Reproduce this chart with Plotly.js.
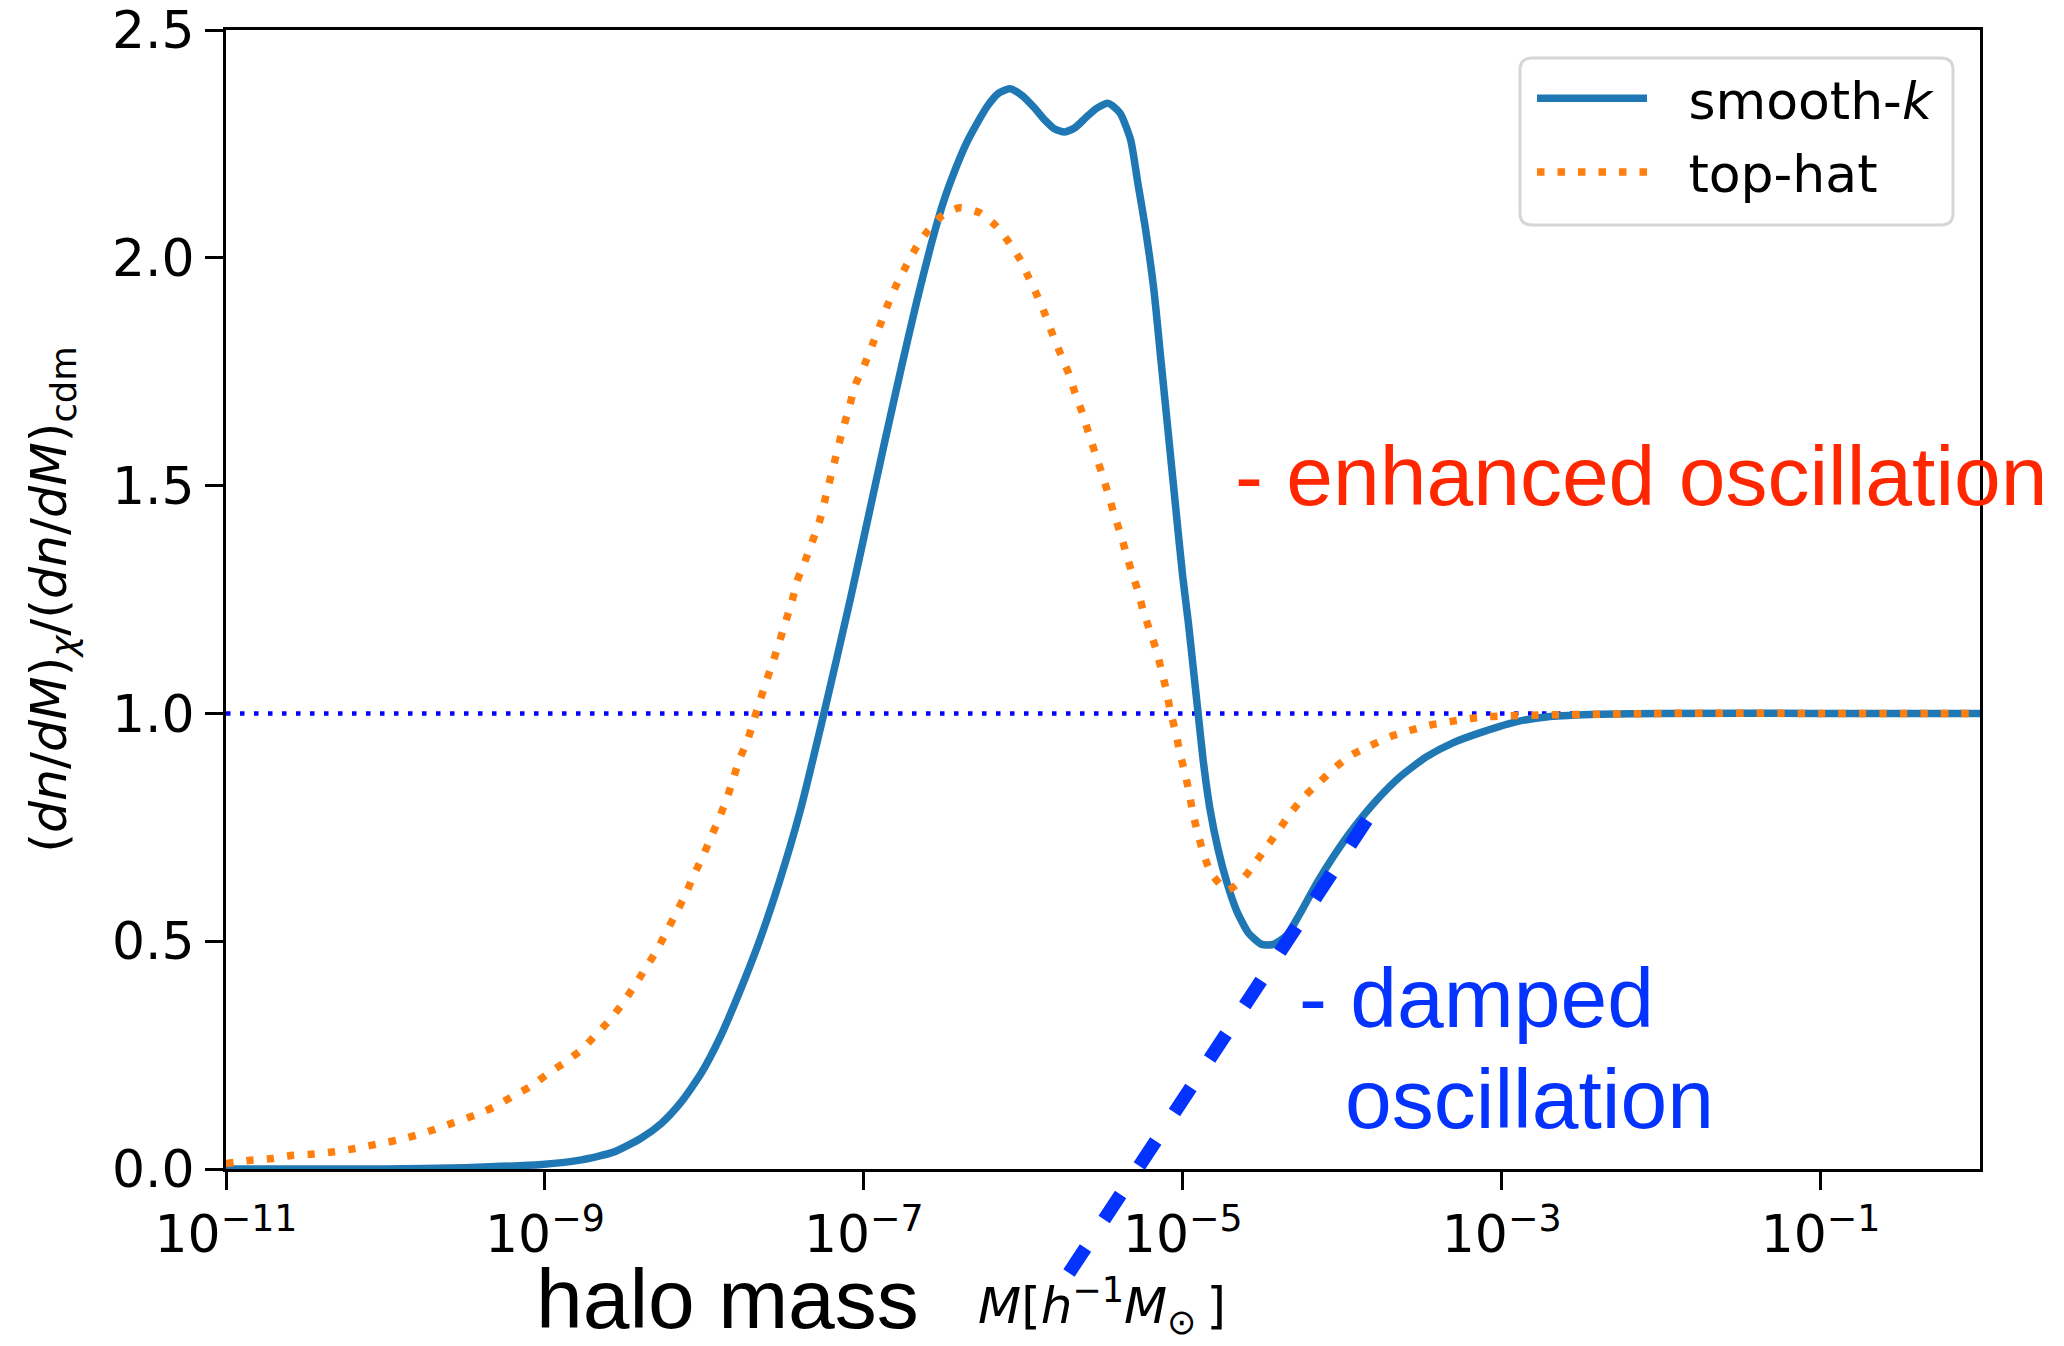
<!DOCTYPE html>
<html>
<head>
<meta charset="utf-8">
<script src="https://cdn.plot.ly/plotly-3.0.1.min.js"></script>
<style>
html, body { margin: 0; padding: 0; background: #ffffff; }
#chart { width: 2064px; height: 1346px; }
</style>
</head>
<body>
<div id="chart"></div>
<script>
// Values.
// x values are log10 of halo mass M [h^-1 M_sun]; y is the mass-function ratio.
const smoothLogM = [-11.0, -10.0, -9.5, -9.02, -8.77, -8.57, -8.40, -8.27, -8.15, -8.02, -7.90, -7.78, -7.65, -7.53, -7.40, -7.25, -7.085, -6.985, -6.873, -6.761, -6.671, -6.581, -6.503, -6.425, -6.357, -6.290, -6.223, -6.156, -6.084, -6.010, -5.932, -5.864, -5.808, -5.741, -5.674, -5.607, -5.540, -5.466, -5.394, -5.327, -5.282, -5.237, -5.181, -5.136, -5.091, -5.047, -5.00, -4.965, -4.934, -4.902, -4.871, -4.829, -4.777, -4.724, -4.662, -4.588, -4.505, -4.432, -4.348, -4.264, -4.160, -4.055, -3.930, -3.783, -3.637, -3.470, -3.302, -3.114, -2.905, -2.696, -2.382, -2.0, -1.0, 0.0];
const smoothRatio = [0.0, 0.0, 0.003, 0.010, 0.020, 0.037, 0.067, 0.100, 0.145, 0.210, 0.290, 0.388, 0.505, 0.630, 0.785, 1.0, 1.25, 1.41, 1.59, 1.765, 1.90, 2.025, 2.12, 2.195, 2.251, 2.295, 2.334, 2.361, 2.371, 2.357, 2.330, 2.302, 2.284, 2.276, 2.286, 2.308, 2.328, 2.339, 2.318, 2.259, 2.165, 2.071, 1.930, 1.773, 1.616, 1.462, 1.30, 1.20, 1.10, 0.995, 0.895, 0.79, 0.70, 0.63, 0.567, 0.518, 0.493, 0.493, 0.513, 0.561, 0.627, 0.686, 0.748, 0.810, 0.861, 0.905, 0.936, 0.960, 0.982, 0.993, 0.998, 1.0, 1.0, 1.0];

const tophatLogM = [-11.0, -10.85, -10.71, -10.58, -10.45, -10.32, -10.19, -10.06, -9.93, -9.81, -9.69, -9.57, -9.44, -9.32, -9.21, -9.09, -8.99, -8.88, -8.77, -8.68, -8.59, -8.51, -8.44, -8.37, -8.30, -8.24, -8.18, -8.12, -8.07, -8.01, -7.96, -7.91, -7.86, -7.82, -7.78, -7.73, -7.69, -7.65, -7.61, -7.57, -7.53, -7.49, -7.45, -7.42, -7.37, -7.276, -7.231, -7.186, -7.142, -7.097, -7.052, -6.996, -6.944, -6.895, -6.850, -6.799, -6.738, -6.676, -6.608, -6.514, -6.398, -6.274, -6.174, -6.088, -6.021, -5.965, -5.909, -5.860, -5.813, -5.764, -5.714, -5.674, -5.629, -5.591, -5.551, -5.510, -5.472, -5.434, -5.394, -5.356, -5.320, -5.279, -5.247, -5.205, -5.163, -5.132, -5.101, -5.076, -5.042, -5.017, -4.986, -4.959, -4.934, -4.902, -4.867, -4.818, -4.72, -4.630, -4.547, -4.473, -4.396, -4.317, -4.233, -4.139, -4.045, -3.940, -3.825, -3.700, -3.578, -3.453, -3.323, -3.198, -3.072, -2.937, -2.800, -2.675, -2.414, -2.0, -1.0, 0.0];
const tophatRatio = [0.012, 0.019, 0.023, 0.030, 0.033, 0.038, 0.045, 0.054, 0.063, 0.074, 0.087, 0.102, 0.118, 0.136, 0.158, 0.181, 0.207, 0.233, 0.262, 0.295, 0.328, 0.365, 0.401, 0.440, 0.479, 0.519, 0.560, 0.601, 0.642, 0.686, 0.727, 0.768, 0.812, 0.855, 0.899, 0.940, 0.985, 1.029, 1.072, 1.113, 1.156, 1.202, 1.246, 1.289, 1.333, 1.424, 1.487, 1.549, 1.61, 1.665, 1.722, 1.765, 1.811, 1.855, 1.897, 1.938, 1.980, 2.020, 2.055, 2.091, 2.110, 2.099, 2.071, 2.033, 1.997, 1.956, 1.914, 1.873, 1.829, 1.787, 1.745, 1.702, 1.659, 1.616, 1.573, 1.530, 1.487, 1.442, 1.398, 1.353, 1.310, 1.267, 1.224, 1.180, 1.136, 1.092, 1.048, 1.002, 0.956, 0.912, 0.869, 0.825, 0.777, 0.733, 0.689, 0.647, 0.612, 0.634, 0.671, 0.707, 0.745, 0.784, 0.819, 0.850, 0.881, 0.909, 0.929, 0.949, 0.962, 0.974, 0.982, 0.989, 0.993, 0.995, 0.996, 0.997, 0.998, 1.0, 1.0, 1.0];

// reference line at ratio = 1
const refLogM = [-11.0, 0.0];
const refRatio = [1.0, 1.0];

const seriesNames = ['smooth-<i>k</i>', 'top-hat'];

const xTickVals = [1e-11, 1e-9, 1e-7, 1e-5, 1e-3, 1e-1];
const xTickText = ['10<sup>−11</sup>', '10<sup>−9</sup>', '10<sup>−7</sup>', '10<sup>−5</sup>', '10<sup>−3</sup>', '10<sup>−1</sup>'];
const yTickVals = [0.0, 0.5, 1.0, 1.5, 2.0, 2.5];
const yTickText = ['0.0', '0.5', '1.0', '1.5', '2.0', '2.5'];

// annotation texts
const enhancedText = '- enhanced oscillation';
const dampedText1 = '- damped';
const dampedText2 = 'oscillation';
const xTitleMain = 'halo mass';
const xTitleUnit = '<i>M</i>[<i>h</i><sup>−1</sup><i>M</i><sub>⊙</sub>\u2009]';
const yTitle = '(<i>dn</i>/<i>dM</i>)<sub><i>χ</i></sub>/(<i>dn</i>/<i>dM</i>)<sub>cdm</sub>';

// ---------- layout geometry (pixels) ----------
const W = 2064, H = 1346;
const plotL = 226, plotR = 1980, plotT = 30, plotB = 1169;
const px = v => (v - plotL) / (plotR - plotL);
const py = v => (plotB - v) / (plotB - plotT);

const toMass = arr => arr.map(v => Math.pow(10, v));
const legendGap = '\u2002\u2009';

const traces = [
  {
    x: toMass(refLogM), y: refRatio, mode: 'lines', showlegend: false, hoverinfo: 'skip',
    line: { color: '#0000ff', width: 4.5, dash: '4.5px,9.5px' }
  },
  {
    x: toMass(smoothLogM), y: smoothRatio, mode: 'lines', name: legendGap + seriesNames[0], legendgroup: 'a',
    line: { color: '#1f77b4', width: 7.5, shape: 'spline', smoothing: 0.6 }
  },
  {
    x: toMass(tophatLogM), y: tophatRatio, mode: 'lines', name: legendGap + seriesNames[1], legendgroup: 'b',
    line: { color: '#ff7f0e', width: 7.5, dash: '7.5px,13px', shape: 'spline', smoothing: 0.6 }
  }
];

// rounded legend frame
const lx0 = px(1520), lx1 = px(1953), ly1 = py(58), ly0 = py(225);
const rx = 12 / (plotR - plotL), ry = 12 / (plotB - plotT);
const framePath = `M ${lx0 + rx},${ly1} L ${lx1 - rx},${ly1} Q ${lx1},${ly1} ${lx1},${ly1 - ry} L ${lx1},${ly0 + ry} Q ${lx1},${ly0} ${lx1 - rx},${ly0} L ${lx0 + rx},${ly0} Q ${lx0},${ly0} ${lx0},${ly0 + ry} L ${lx0},${ly1 - ry} Q ${lx0},${ly1} ${lx0 + rx},${ly1} Z`;

const tickFont = { family: 'DejaVu Sans', size: 52, color: '#000000' };

const layout = {
  width: W, height: H,
  paper_bgcolor: '#ffffff', plot_bgcolor: '#ffffff',
  margin: { l: plotL, r: W - plotR, t: plotT, b: H - plotB, autoexpand: false },
  showlegend: true,
  legend: {
    x: px(1532), y: py(58), xanchor: 'left', yanchor: 'top',
    bgcolor: 'rgba(0,0,0,0)', borderwidth: 0,
    font: { family: 'DejaVu Sans', size: 52, color: '#000000' },
    itemwidth: 110, tracegroupgap: 3
  },
  xaxis: {
    type: 'log', range: [-11, 0],
    tickmode: 'array', tickvals: xTickVals, ticktext: xTickText,
    ticks: 'outside', ticklen: 18, tickwidth: 3, tickcolor: '#000000',
    showline: true, linewidth: 3, linecolor: '#000000', mirror: true,
    showgrid: false, zeroline: false, automargin: false,
    tickfont: tickFont
  },
  yaxis: {
    range: [0, 2.5],
    tickmode: 'array', tickvals: yTickVals, ticktext: yTickText,
    ticks: 'outside', ticklen: 18, tickwidth: 3, tickcolor: '#000000',
    showline: true, linewidth: 3, linecolor: '#000000', mirror: true,
    showgrid: false, zeroline: false, automargin: false,
    tickfont: tickFont,
    title: { text: yTitle, standoff: 30, font: { family: 'DejaVu Sans', size: 50.5, color: '#000000' } }
  },
  shapes: [
    {
      type: 'path', xref: 'paper', yref: 'paper', path: framePath,
      line: { color: '#d6d6d6', width: 3 }, fillcolor: 'rgba(255,255,255,0.8)', layer: 'above'
    },
    {
      type: 'line', xref: 'paper', yref: 'paper',
      x0: px(1069), y0: py(1273), x1: px(1368), y1: py(818),
      line: { color: '#0433ff', width: 13.5, dash: '30px,34px' }, layer: 'above'
    }
  ],
  annotations: [
    {
      xref: 'paper', yref: 'paper', x: px(1233), y: py(476), xanchor: 'left', yanchor: 'middle',
      text: enhancedText, showarrow: false,
      font: { family: 'Liberation Sans', size: 84, color: '#ff2600' }
    },
    {
      xref: 'paper', yref: 'paper', x: px(1297), y: py(998), xanchor: 'left', yanchor: 'middle',
      text: dampedText1, showarrow: false,
      font: { family: 'Liberation Sans', size: 84, color: '#0433ff' }
    },
    {
      xref: 'paper', yref: 'paper', x: px(1343), y: py(1099), xanchor: 'left', yanchor: 'middle',
      text: dampedText2, showarrow: false,
      font: { family: 'Liberation Sans', size: 84, color: '#0433ff' }
    },
    {
      xref: 'paper', yref: 'paper', x: px(534), y: py(1299), xanchor: 'left', yanchor: 'middle',
      text: xTitleMain, showarrow: false,
      font: { family: 'Liberation Sans', size: 84, color: '#000000' }
    },
    {
      xref: 'paper', yref: 'paper', x: px(1102), y: py(1306), xanchor: 'center', yanchor: 'middle',
      text: xTitleUnit, showarrow: false,
      font: { family: 'DejaVu Sans', size: 50, color: '#000000' }
    }
  ]
};

Plotly.newPlot('chart', traces, layout, { staticPlot: true, displayModeBar: false });
</script>
</body>
</html>
